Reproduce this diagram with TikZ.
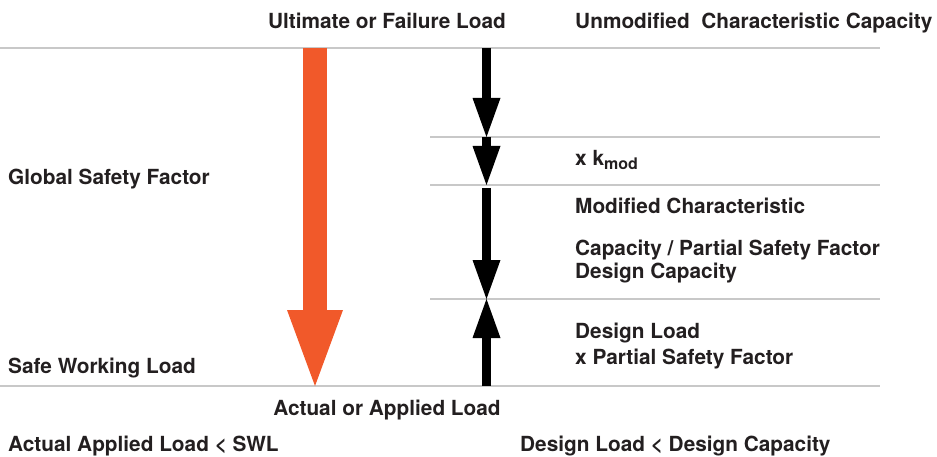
\documentclass[tikz,border=0pt]{standalone}
\usepackage{fontspec}
\setmainfont{TeX Gyre Heros}
\usetikzlibrary{arrows.meta}

\definecolor{loadorange}{HTML}{F1592A}
\definecolor{labelgray}{HTML}{231F20}
\definecolor{rulegray}{HTML}{C8C8C8}

\tikzset{
  lbl/.style={anchor=base west, inner sep=0pt, text=labelgray,
              font=\fontsize{20.8}{25}\selectfont\bfseries},
  rule/.style={draw=rulegray, line width=1.3pt},
  force/.style={line width=9pt,
                -{Triangle[length=39pt,width=28pt,line width=0pt]}},
  globarrow/.style={draw=loadorange, line width=24pt,
                -{Triangle[length=76pt,width=56pt,line width=0pt]}},
}

\begin{document}
\begin{tikzpicture}[x=1pt,y=-1pt]
   \useasboundingbox (0,0) rectangle (937,457);

   % levels
   \coordinate (L0)  at (0,48);   \coordinate (R0) at (880,48);
   \coordinate (L1)  at (430,137); \coordinate (R1) at (880,137);
   \coordinate (L2)  at (430,185); \coordinate (R2) at (880,185);
   \coordinate (L3)  at (430,299); \coordinate (R3) at (880,299);
   \coordinate (L4)  at (0,386);  \coordinate (R4) at (880,386);

   \path[rule]
     (L0) edge (R0)
     (L1) edge (R1)
     (L2) edge (R2)
     (L3) edge (R3)
     (L4) edge (R4);

   % global safety factor
   \coordinate (G0) at (315,48);
   \coordinate (G1) at (315,386);
   \draw[globarrow] (G0) -- (G1);

   % partial factors
   \coordinate (A0) at (486.5,48);
   \coordinate (A1) at (486.5,137);
   \coordinate (A2) at (486.5,185);
   \coordinate (A2b) at (486.5,188);
   \coordinate (A3) at (486.5,299);
   \coordinate (A4) at (486.5,386);

   \path[force]
     (A0)  edge (A1)
     (A1)  edge (A2)
     (A2b) edge (A3)
     (A4)  edge (A3);

   % labels
   \node (ult)  [lbl, anchor=base] at (387,28.5) {Ultimate or Failure Load};
   \node (unm)  [lbl] at (575,28.5) {Unmodified\ \ Characteristic Capacity};
   \node (kmod) [lbl] at (575,166) {x k\raisebox{-4pt}{\fontsize{16}{16}\selectfont mod}};
   \node (modc) [lbl] at (575,214) {Modified Characteristic};
   \node (cpsf) [lbl] at (575,255) {Capacity / Partial Safety Factor};
   \node (dcap) [lbl] at (575,278) {Design Capacity};
   \node (dld)  [lbl] at (575,338) {Design Load};
   \node (xpsf) [lbl] at (575,364) {x Partial Safety Factor};
   \node (gsf)  [lbl] at (8,185) {Global Safety Factor};
   \node (swl)  [lbl] at (8,373) {Safe Working Load};
   \node (act)  [lbl, anchor=base] at (387,415) {Actual or Applied Load};
   \node (chk1) [lbl] at (8,451) {Actual Applied Load < SWL};
   \node (chk2) [lbl] at (520,451) {Design Load < Design Capacity};
\end{tikzpicture}
\end{document}
